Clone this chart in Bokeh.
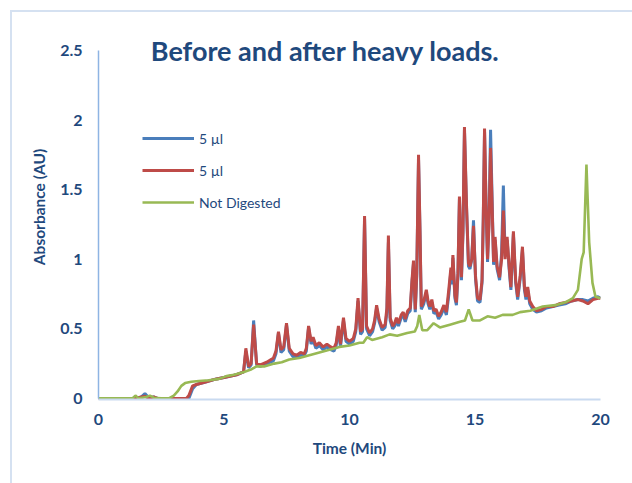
from bokeh.plotting import figure
from bokeh.layouts import column
from bokeh.models import Range1d, Legend, LegendItem, Label, FixedTicker, NumeralTickFormatter
from bokeh.embed import file_html
from bokeh.resources import INLINE

# ---------------- data ----------------
time_digested = [
    0, 0.5, 1.0, 1.5, 1.7, 1.85, 2.0, 2.2, 2.35, 2.6,
    3.0, 3.5, 3.6, 3.75, 3.9, 4.3, 4.7, 5.0, 5.5, 5.78,
    5.87, 5.98, 6.08, 6.18, 6.3, 6.45, 6.7, 6.97, 7.07, 7.17,
    7.27, 7.38, 7.49, 7.6, 7.75, 7.9, 8.05, 8.2, 8.28, 8.37,
    8.47, 8.55, 8.66, 8.8, 8.95, 9.1, 9.25, 9.38, 9.47, 9.56,
    9.64, 9.76, 9.86, 10.0, 10.15, 10.25, 10.34, 10.44, 10.52, 10.6,
    10.68, 10.8, 10.92, 11.0, 11.08, 11.18, 11.3, 11.42, 11.49, 11.55,
    11.62, 11.72, 11.8, 11.87, 11.95, 12.06, 12.14, 12.22, 12.32, 12.42,
    12.49, 12.55, 12.62, 12.68, 12.75, 12.81, 12.86, 12.96, 13.06, 13.13,
    13.2, 13.28, 13.36, 13.45, 13.55, 13.65, 13.76, 13.86, 13.96, 14.04,
    14.08, 14.12, 14.2, 14.26, 14.32, 14.38, 14.46, 14.52, 14.58, 14.66,
    14.74, 14.8, 14.87, 14.94, 15.02, 15.1, 15.2, 15.28, 15.33, 15.38,
    15.44, 15.5, 15.56, 15.62, 15.68, 15.74, 15.8, 15.88, 15.98, 16.06,
    16.13, 16.2, 16.28, 16.36, 16.43, 16.53, 16.62, 16.7, 16.8, 16.89,
    16.97, 17.03, 17.1, 17.18, 17.3, 17.45, 17.65, 17.85, 18.1, 18.35,
    18.6, 18.85, 19.1, 19.3, 19.5, 19.7, 19.9, 20.0,
]

abs_5ul_blue = [
    0, 0, 0, 0, 0.01, 0.035, 0.005, 0.01, 0.0, 0.0,
    0.0, 0.0, 0.0, 0.07, 0.10, 0.12, 0.14, 0.15, 0.17, 0.19,
    0.34, 0.22, 0.24, 0.56, 0.24, 0.23, 0.25, 0.27, 0.32, 0.47,
    0.33, 0.35, 0.53, 0.34, 0.30, 0.30, 0.31, 0.31, 0.34, 0.51,
    0.39, 0.42, 0.36, 0.38, 0.35, 0.37, 0.35, 0.34, 0.38, 0.50,
    0.37, 0.56, 0.41, 0.39, 0.41, 0.48, 0.70, 0.46, 0.48, 1.29,
    0.50, 0.45, 0.48, 0.54, 0.65, 0.55, 0.49, 0.51, 0.62, 1.12,
    0.56, 0.50, 0.52, 0.56, 0.52, 0.58, 0.60, 0.55, 0.61, 0.63,
    0.83, 0.97, 0.62, 0.88, 1.72, 1.18, 0.64, 0.68, 0.76, 0.68,
    0.64, 0.69, 0.61, 0.62, 0.57, 0.60, 0.65, 0.60, 0.75, 0.92,
    0.82, 1.01, 0.72, 0.67, 0.88, 1.43, 0.85, 1.18, 1.93, 1.38,
    0.95, 0.93, 1.00, 1.28, 0.86, 0.70, 0.69, 0.83, 1.28, 1.92,
    1.38, 0.98, 1.30, 1.93, 1.45, 0.96, 1.14, 0.93, 0.85, 1.05,
    1.53, 1.02, 1.14, 0.93, 0.78, 1.18, 0.83, 0.71, 0.86, 1.07,
    0.78, 0.71, 0.78, 0.68, 0.64, 0.62, 0.63, 0.65, 0.66, 0.67,
    0.68, 0.70, 0.71, 0.71, 0.70, 0.72, 0.73, 0.72,
]

abs_5ul_red = [
    0, 0, 0, 0, 0.01, 0.015, 0.0, 0.01, 0.0, 0.0,
    0.0, 0.0, 0.02, 0.09, 0.10, 0.12, 0.14, 0.15, 0.17, 0.19,
    0.36, 0.23, 0.25, 0.53, 0.25, 0.24, 0.26, 0.29, 0.34, 0.48,
    0.35, 0.37, 0.54, 0.36, 0.32, 0.31, 0.33, 0.32, 0.36, 0.52,
    0.41, 0.44, 0.38, 0.40, 0.37, 0.39, 0.37, 0.36, 0.40, 0.52,
    0.39, 0.58, 0.43, 0.41, 0.43, 0.50, 0.72, 0.48, 0.50, 1.31,
    0.52, 0.47, 0.50, 0.56, 0.67, 0.57, 0.51, 0.53, 0.65, 1.17,
    0.58, 0.52, 0.54, 0.58, 0.54, 0.60, 0.62, 0.57, 0.63, 0.65,
    0.85, 0.99, 0.64, 0.90, 1.75, 1.20, 0.66, 0.70, 0.78, 0.70,
    0.66, 0.71, 0.63, 0.64, 0.59, 0.62, 0.67, 0.62, 0.79, 0.94,
    0.85, 1.03, 0.74, 0.69, 0.90, 1.45, 0.87, 1.20, 1.95, 1.40,
    0.97, 0.95, 1.00, 1.24, 0.88, 0.72, 0.71, 0.85, 1.30, 1.94,
    1.40, 1.00, 1.25, 1.80, 1.40, 0.98, 1.16, 0.95, 0.87, 1.00,
    1.35, 1.00, 1.16, 0.95, 0.80, 1.20, 0.85, 0.73, 0.88, 1.09,
    0.80, 0.73, 0.80, 0.70, 0.66, 0.63, 0.64, 0.66, 0.66, 0.68,
    0.69, 0.70, 0.71, 0.70, 0.68, 0.71, 0.72, 0.72,
]

time_not_digested = [
    0, 0.5, 1.0, 1.35, 1.47, 1.6, 1.9, 2.05, 2.2, 2.5,
    2.8, 3.0, 3.15, 3.3, 3.45, 3.7, 4.0, 4.4, 4.8, 5.1,
    5.4, 5.8, 6.1, 6.3, 6.6, 7.0, 7.3, 7.6, 8.0, 8.4,
    8.8, 9.2, 9.6, 10.0, 10.4, 10.55, 10.7, 10.9, 11.3, 11.6,
    11.9, 12.3, 12.6, 12.7, 12.78, 12.9, 13.1, 13.35, 13.6, 14.0,
    14.4, 14.6, 14.75, 14.9, 15.2, 15.5, 15.8, 16.1, 16.5, 16.8,
    17.2, 17.7, 18.2, 18.6, 18.9, 19.1, 19.25, 19.33, 19.44, 19.55,
    19.68, 19.8, 20.0,
]

abs_not_digested = [
    0, 0, 0, 0, 0.02, 0.0, 0.01, 0.02, 0.005, 0.0,
    0.0, 0.02, 0.05, 0.09, 0.11, 0.12, 0.125, 0.13, 0.14, 0.16,
    0.17, 0.19, 0.21, 0.23, 0.23, 0.25, 0.26, 0.28, 0.29, 0.31,
    0.33, 0.35, 0.37, 0.38, 0.40, 0.40, 0.44, 0.42, 0.44, 0.46,
    0.45, 0.47, 0.48, 0.52, 0.60, 0.49, 0.49, 0.54, 0.51, 0.53,
    0.55, 0.56, 0.64, 0.56, 0.56, 0.59, 0.58, 0.60, 0.60, 0.62,
    0.63, 0.66, 0.67, 0.69, 0.72, 0.78, 1.00, 1.05, 1.68, 1.12,
    0.83, 0.73, 0.72,
]

x_ticks = [0, 5, 10, 15, 20]
y_ticks = [0, 0.5, 1, 1.5, 2, 2.5]
series_labels = ["5 \u00b5l", "5 \u00b5l", "Not Digested"]
series_colors = ["#4A7EBB", "#BE4B48", "#98B954"]

title_text = "Before and after heavy loads."
x_label = "Time (Min)"
y_label = "Absorbance (AU)"

TEXT = "#1F497D"
FONT = "Lato"

# ---------------- figure ----------------
p = figure(width=620, height=471, output_backend="svg", toolbar_location=None,
           x_range=Range1d(0, 20), y_range=Range1d(-0.008, 2.7587),
           min_border_left=86, min_border_right=32,
           min_border_top=2, min_border_bottom=84)
p.border_fill_color = "white"
p.background_fill_color = "white"
p.outline_line_color = None
p.xgrid.visible = False
p.ygrid.visible = False

r_blue = p.line(time_digested, abs_5ul_blue, line_color=series_colors[0], line_width=3)
r_red = p.line(time_digested, abs_5ul_red, line_color=series_colors[1], line_width=3)
r_green = p.line(time_not_digested, abs_not_digested, line_color=series_colors[2], line_width=2.6)

# axes
p.xaxis.ticker = FixedTicker(ticks=x_ticks)
p.yaxis.ticker = FixedTicker(ticks=y_ticks)
p.yaxis.formatter = NumeralTickFormatter(format="0.[0]")
p.xaxis.formatter = NumeralTickFormatter(format="0")
p.yaxis.bounds = (0, 2.5)
for ax in (p.xaxis, p.yaxis):
    ax.major_tick_line_color = None
    ax.minor_tick_line_color = None
    ax.major_tick_out = 0
    ax.major_tick_in = 0
    ax.major_label_text_font = FONT
    ax.major_label_text_font_style = "bold"
    ax.major_label_text_font_size = "16px"
    ax.major_label_text_color = TEXT
    ax.axis_label_text_font = FONT
    ax.axis_label_text_font_style = "bold"
    ax.axis_label_text_font_size = "15.5px"
    ax.axis_label_text_color = TEXT
p.yaxis.axis_line_color = "#8EB4E3"
p.yaxis.axis_line_width = 1.5
p.xaxis.axis_line_color = "#C9DAF0"
p.xaxis.axis_line_width = 2
p.xaxis.axis_label = x_label
p.yaxis.axis_label = y_label
p.yaxis.major_label_standoff = 16
p.xaxis.major_label_standoff = 14
p.yaxis.axis_label_standoff = 9
p.xaxis.axis_label_standoff = 11

# title
p.add_layout(Label(x=9.04, y=2.5, text=title_text, text_align="center",
                   text_baseline="middle", text_font=FONT, text_font_style="bold",
                   text_font_size="27px", text_color=TEXT))

# legend
legend = Legend(items=[LegendItem(label=series_labels[0], renderers=[r_blue]),
                       LegendItem(label=series_labels[1], renderers=[r_red]),
                       LegendItem(label=series_labels[2], renderers=[r_green])],
                location=(44, 187), orientation="vertical")
legend.padding = 0
legend.margin = 0
legend.border_line_color = None
legend.background_fill_alpha = 0
legend.glyph_width = 52
legend.glyph_height = 20
legend.label_height = 20
legend.spacing = 12
legend.label_standoff = 5
legend.label_text_font = FONT
legend.label_text_font_size = "14px"
legend.label_text_color = TEXT
p.add_layout(legend)

page = column(p, styles={"margin-left": "10px", "margin-top": "10px",
                         "border-top": "2px solid #D5E1F1",
                         "border-left": "2px solid #D5E1F1"})

open("out.html", "w").write(file_html(page, INLINE))
